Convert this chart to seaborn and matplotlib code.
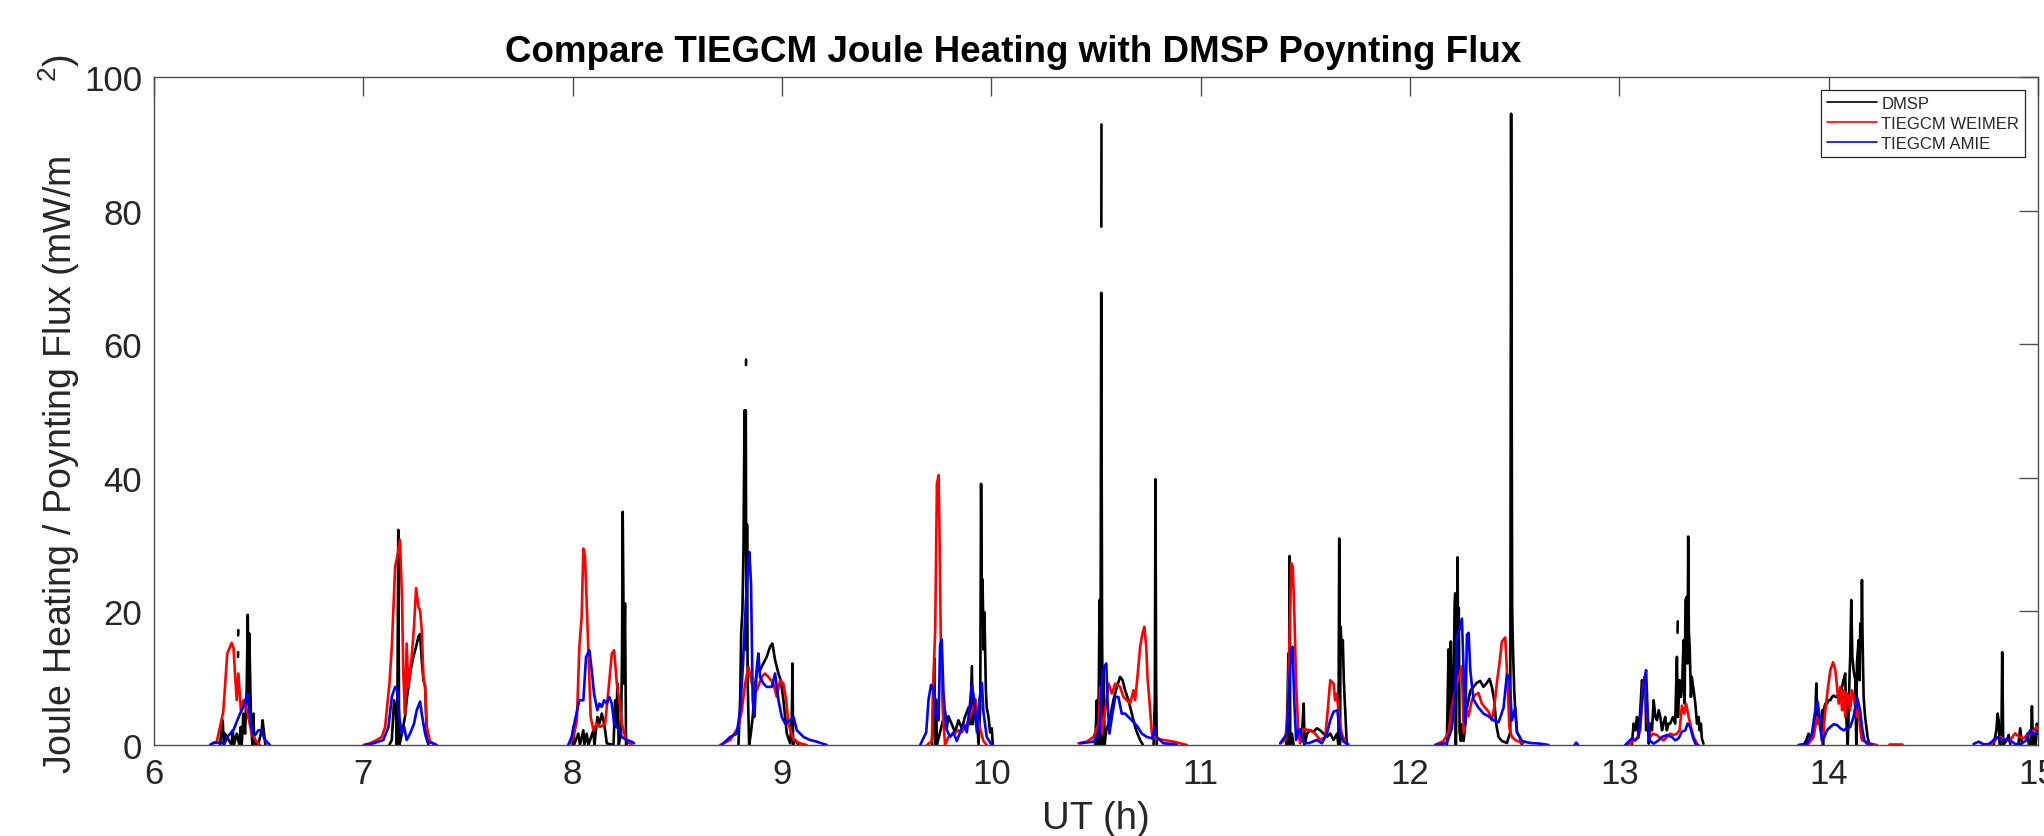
import numpy as np
import pandas as pd
import matplotlib
matplotlib.use("Agg")
import matplotlib.pyplot as plt
import seaborn as sns

GAP = None  # break in a trace

TITLE = "Compare TIEGCM Joule Heating with DMSP Poynting Flux"
X_LABEL = "UT (h)"
Y_LABEL = "Joule Heating / Poynting Flux (mW/m       $^{2}$)"
SERIES = ["DMSP", "TIEGCM WEIMER", "TIEGCM AMIE"]
COLORS = ["black", "red", "blue"]
X_TICKS = [6, 7, 8, 9, 10, 11, 12, 13, 14, 15]
Y_TICKS = [0, 20, 40, 60, 80, 100]

# (UT hour, mW/m^2) pairs; GAP breaks the line
DMSP = [
    (6.315, 0), (6.323, 2.2), (6.328, 3.7), (6.334, 0), (6.339, 1.7), (6.371, 0), (6.376, 2.2), (6.382, 0),
    (6.395, 1.7), (6.408, 0), (6.414, 2.7), (6.419, 0), (6.427, 4.7), (6.435, 1.7), (6.443, 8.7), (6.448, 19.5),
    (6.452, 6.7), (6.455, 16.7), (6.459, 10.7), (6.463, 4.2), (6.470, 0), (6.475, 4.7), (6.479, 0.25), (6.498, 0),
    (6.514, 2.2), (6.519, 3.7), (6.526, 1.7), (6.532, 0), GAP,
    (6.402, 16.4), (6.403, 17.2), GAP, (6.401, 13.2), (6.402, 13.9), GAP,
    (7.124, 0), (7.136, 0.75), (7.147, 6.7), (7.156, 4.7), (7.160, 0), (7.163, 8.2), (7.167, 32.2), (7.171, 0),
    (7.178, 0.75), (7.199, 4.2), (7.207, 6.7), (7.215, 8.7), (7.226, 11.2), (7.239, 13.2), (7.252, 14.7),
    (7.263, 16.2), (7.271, 16.6), (7.279, 12.7), (7.287, 9.7), (7.295, 8.9), (7.303, 1.7), (7.311, 0), GAP,
    (8.000, 0), (8.003, 2.7), (8.006, 0), (8.027, 1.7), (8.035, 0), (8.051, 2.2), (8.056, 0), (8.067, 1.7),
    (8.075, 0), (8.099, 2.2), (8.104, 0), (8.118, 4.2), (8.128, 3.2), (8.139, 4.7), (8.147, 3.7), (8.155, 2.2),
    (8.163, 0.25), (8.195, 0), (8.203, 6.7), (8.208, 2.7), (8.214, 9.2), (8.220, 0), (8.231, 1.7), (8.236, 14.2),
    (8.239, 34.9), (8.242, 24.2), (8.245, 9.2), (8.250, 21.2), (8.255, 0), (8.266, 0.5), GAP,
    (8.792, 0), (8.800, 6.7), (8.805, 16.7), (8.811, 20.2), (8.816, 29.2), (8.821, 50.1), (8.824, 39.2),
    (8.827, 50.1), (8.830, 14.2), (8.833, 33.0), (8.836, 9.2), (8.843, 0), (8.851, 1.7), (8.860, 4.2),
    (8.872, 9.2), (8.880, 11.2), (8.895, 11.2), (8.911, 12.2), (8.927, 13.2), (8.943, 14.7), (8.954, 15.2),
    (8.967, 12.7), (8.983, 10.7), (8.994, 9.7), (9.007, 6.7), (9.023, 1.7), (9.039, 0.25), (9.047, 4.2),
    (9.050, 12.2), (9.053, 0), (9.063, 0.75), (9.079, 0), GAP, (8.828, 56.9), (8.8285, 57.7), GAP,
    (9.716, 0), (9.724, 6.8), (9.728, 13.0), (9.732, 0), (9.736, 6.8), (9.740, 0), (9.755, 1.9), (9.779, 5.0),
    (9.787, 2.5), (9.795, 4.3), (9.811, 3.1), (9.827, 1.9), (9.843, 3.7), (9.859, 2.5), (9.875, 4.3),
    (9.891, 5.6), (9.899, 3.1), (9.907, 11.8), (9.912, 3.1), (9.923, 6.8), (9.931, 4.3), (9.939, 0),
    (9.947, 5.6), (9.951, 39.1), (9.955, 20.5), (9.958, 24.8), (9.963, 14.3), (9.967, 19.9), (9.974, 8.1),
    (9.978, 5.6), (9.986, 4.3), (9.994, 1.9), (10.002, 2.5), (10.007, 0), GAP,
    (10.496, 0), (10.504, 6.7), (10.507, 0), (10.513, 7.7), (10.517, 21.7), (10.521, 0), (10.525, 67.7),
    (10.529, 16.7), (10.533, 0), (10.536, 11.7), (10.541, 0), (10.549, 2.2), (10.560, 3.2), (10.571, 4.7),
    (10.583, 6.7), (10.600, 8.7), (10.615, 10.2), (10.627, 9.7), (10.639, 8.2), (10.655, 6.7), (10.671, 4.7),
    (10.687, 2.7), (10.698, 1.7), (10.711, 0.75), (10.724, 0), GAP, (10.5255, 77.6), (10.5262, 92.9), GAP,
    (10.775, 0), (10.781, 6.7), (10.784, 39.8), (10.787, 10.7), (10.790, 0), GAP,
    (11.409, 0), (11.415, 6.7), (11.419, 13.7), (11.422, 0), (11.425, 28.3), (11.428, 0), (11.436, 1.7),
    (11.444, 0), GAP,
    (11.484, 1.7), (11.492, 6.2), (11.497, 0), (11.508, 1.7), (11.523, 2.2), (11.539, 2.0), (11.555, 2.5),
    (11.571, 2.2), (11.587, 1.7), (11.603, 1.2), (11.619, 1.7), (11.635, 0.75), (11.651, 1.7), (11.658, 0),
    (11.662, 30.9), (11.665, 0), (11.669, 17.7), (11.674, 13.7), (11.679, 15.7), (11.684, 9.7), (11.688, 6.7),
    (11.692, 4.2), (11.698, 0), GAP,
    (12.176, 0), (12.184, 14.3), (12.189, 1.9), (12.195, 15.5), (12.200, 3.1), (12.208, 8.1), (12.213, 20.5),
    (12.216, 22.7), (12.219, 0), (12.224, 14.3), (12.227, 28.1), (12.230, 14.3), (12.233, 20.5), (12.237, 1.9),
    (12.243, 0.6), (12.248, 3.1), (12.256, 0.6), (12.272, 5.6), (12.288, 8.1), (12.303, 8.7), (12.319, 9.3),
    (12.335, 9.6), (12.351, 8.7), (12.367, 9.3), (12.380, 9.9), (12.391, 8.7), (12.402, 6.8), (12.412, 3.1),
    (12.423, 1.2), (12.439, 0.6), (12.463, 0.3), (12.479, 1.9), (12.483, 94.5), (12.488, 20.5), (12.492, 14.3),
    (12.498, 8.1), (12.503, 5.0), (12.511, 1.9), (12.524, 1.2), (12.535, 0), GAP,
    (12.4855, 52.0), (12.4860, 54.0), GAP,
    (13.060, 0), (13.068, 3.2), (13.076, 2.2), (13.084, 4.2), (13.092, 1.2), (13.100, 5.2), (13.108, 9.7),
    (13.116, 8.7), (13.124, 10.2), (13.128, 2.2), (13.135, 4.2), (13.141, 0.2), (13.148, 3.2), (13.156, 2.2),
    (13.164, 6.7), (13.172, 4.2), (13.180, 3.7), (13.188, 5.2), (13.196, 4.2), (13.204, 2.2), (13.211, 3.2),
    (13.219, 4.2), (13.227, 2.2), (13.235, 3.2), (13.243, 3.2), (13.256, 4.2), (13.267, 3.2), (13.275, 13.2),
    (13.280, 4.2), (13.288, 9.7), (13.294, 7.2), (13.299, 8.2), (13.307, 15.7), (13.312, 6.2), (13.316, 21.7),
    (13.323, 22.2), (13.326, 12.2), (13.329, 31.2), (13.332, 17.2), (13.336, 14.7), (13.342, 7.2),
    (13.346, 10.2), (13.355, 8.2), (13.363, 6.2), (13.371, 3.2), (13.379, 4.2), (13.383, 2.2), (13.390, 3.2),
    (13.394, 1.0), (13.402, 0.2), GAP, (13.278, 16.8), (13.279, 18.5), GAP,
    (13.880, 0), (13.893, 0.7), (13.904, 1.7), (13.915, 1.0), (13.928, 2.2), (13.936, 4.2), (13.941, 9.2),
    (13.944, 6.2), (13.949, 3.2), (13.957, 4.2), (13.963, 2.2), (13.970, 5.2), (13.973, 0), (13.976, 5.2),
    (13.984, 6.2), (13.992, 6.2), (14.000, 6.7), (14.008, 6.7), (14.016, 7.2), (14.024, 7.4), (14.032, 7.2),
    (14.040, 7.2), (14.048, 7.7), (14.056, 7.7), (14.064, 8.7), (14.071, 9.7), (14.079, 10.7), (14.084, 4.2),
    (14.091, 0), (14.095, 4.2), (14.100, 10.7), (14.103, 13.2), (14.108, 21.7), (14.113, 13.2), (14.119, 11.2),
    (14.127, 9.7), (14.132, 0), (14.135, 12.2), (14.143, 15.7), (14.148, 9.7), (14.151, 18.2), (14.156, 14.7),
    (14.159, 24.7), (14.162, 15.7), (14.167, 7.2), (14.174, 4.2), (14.180, 2.7), (14.186, 1.2), (14.193, 0.2),
    (14.199, 0), GAP,
    (14.788, 0), (14.801, 2.2), (14.807, 4.7), (14.812, 3.7), (14.817, 0), (14.825, 0), (14.829, 13.9),
    (14.834, 0), (14.852, 0.75), (14.860, 1.5), (14.868, 0), GAP,
    (14.907, 0.25), (14.915, 2.5), (14.923, 0.25), GAP,
    (14.944, 0.75), (14.950, 1.7), (14.957, 0), (14.966, 0), (14.971, 5.8), (14.976, 0), (14.982, 1.7),
    (14.989, 0), (14.995, 3.2), (15.001, 1.7), (15.008, 2.7),
]

WEIMER = [
    (6.268, 0), (6.300, 0.5), (6.331, 5.0), (6.350, 13.7), (6.371, 15.3), (6.380, 14.5), (6.387, 10.7),
    (6.395, 6.7), (6.403, 10.7), (6.415, 5.2), (6.427, 6.7), (6.435, 6.2), (6.447, 4.7), (6.467, 1.7),
    (6.490, 0.5), (6.506, 0), GAP,
    (7.000, 0), (7.032, 0.25), (7.064, 0.75), (7.088, 1.2), (7.104, 2.7), (7.125, 9.3), (7.136, 14.7),
    (7.152, 26.7), (7.163, 28.4), (7.175, 30.7), (7.185, 21.7), (7.191, 10.7), (7.199, 4.7), (7.207, 15.2),
    (7.215, 8.7), (7.231, 13.2), (7.242, 17.7), (7.252, 23.5), (7.263, 20.7), (7.271, 20.2), (7.279, 17.2),
    (7.287, 10.2), (7.295, 8.7), (7.303, 2.7), (7.319, 0.5), (7.343, 0), GAP,
    (7.979, 0), (8.003, 1.0), (8.020, 3.7), (8.032, 14.7), (8.043, 19.2), (8.051, 29.4), (8.059, 28.2),
    (8.067, 21.2), (8.075, 14.2), (8.086, 4.2), (8.099, 2.2), (8.115, 3.2), (8.131, 2.7), (8.155, 3.2),
    (8.171, 8.2), (8.187, 13.7), (8.198, 14.2), (8.211, 9.2), (8.223, 6.7), (8.235, 3.2), (8.251, 1.2),
    (8.266, 0.5), (8.282, 0), GAP,
    (8.704, 0), (8.752, 0.75), (8.792, 2.7), (8.808, 5.2), (8.824, 9.2), (8.840, 11.7), (8.856, 9.2),
    (8.880, 8.2), (8.903, 10.2), (8.919, 10.7), (8.935, 10.2), (8.959, 9.2), (8.975, 7.2), (8.991, 9.7),
    (9.007, 9.2), (9.020, 6.7), (9.031, 3.2), (9.055, 0.75), (9.087, 0.25), (9.118, 0), GAP,
    (9.692, 0), (9.716, 0.6), (9.720, 6.8), (9.732, 17.4), (9.740, 39.1), (9.748, 40.4), (9.752, 32.9),
    (9.759, 14.3), (9.768, 5.0), (9.779, 0), (9.795, 1.2), (9.819, 1.6), (9.843, 2.2), (9.859, 1.9),
    (9.883, 3.1), (9.907, 5.0), (9.923, 6.8), (9.934, 4.3), (9.946, 2.5), (9.962, 0.6), (9.978, 0), GAP,
    (10.416, 0.25), (10.456, 0.5), (10.488, 1.2), (10.512, 3.2), (10.520, 8.7), (10.528, 1.7), (10.544, 5.2),
    (10.560, 9.2), (10.576, 7.7), (10.592, 9.2), (10.615, 8.7), (10.631, 7.2), (10.647, 6.7), (10.663, 6.2),
    (10.679, 8.2), (10.687, 6.7), (10.698, 10.2), (10.711, 14.7), (10.722, 16.7), (10.731, 17.7),
    (10.740, 14.7), (10.746, 10.2), (10.755, 6.7), (10.767, 1.7), (10.783, 1.0), (10.822, 0.75),
    (10.870, 0.5), (10.934, 0), GAP,
    (11.380, 0.25), (11.404, 0.75), (11.415, 4.2), (11.425, 16.7), (11.433, 27.2), (11.440, 26.7),
    (11.448, 19.2), (11.456, 9.2), (11.467, 1.7), (11.475, 0.25), (11.483, 1.7), (11.491, 2.4), (11.523, 2.2),
    (11.547, 1.7), (11.571, 0.75), (11.595, 1.2), (11.607, 5.2), (11.619, 9.7), (11.635, 9.2), (11.642, 6.7),
    (11.650, 7.7), (11.663, 3.7), (11.674, 1.7), (11.690, 0.5), GAP,
    (12.120, 0), (12.160, 0.6), (12.184, 1.9), (12.200, 5.6), (12.211, 7.5), (12.224, 9.3), (12.237, 10.6),
    (12.248, 11.8), (12.256, 1.9), (12.268, 5.6), (12.280, 4.3), (12.296, 6.8), (12.311, 7.5), (12.327, 7.8),
    (12.343, 6.2), (12.359, 5.6), (12.375, 5.0), (12.391, 3.7), (12.402, 5.6), (12.415, 9.3), (12.428, 12.4),
    (12.439, 15.5), (12.455, 16.1), (12.466, 9.3), (12.475, 2.5), (12.487, 1.2), (12.511, 0.6),
    (12.542, 0.3), GAP,
    (13.036, 0), (13.060, 0.5), (13.084, 1.0), (13.100, 2.2), (13.112, 8.2), (13.120, 10.2), (13.128, 8.2),
    (13.136, 3.2), (13.148, 1.2), (13.160, 1.7), (13.180, 1.5), (13.196, 1.0), (13.211, 0.7), (13.227, 1.2),
    (13.243, 1.7), (13.259, 1.5), (13.275, 1.7), (13.288, 2.2), (13.299, 5.9), (13.310, 4.7), (13.319, 6.2),
    (13.331, 4.2), (13.342, 2.7), (13.355, 1.2), (13.371, 0.2), GAP,
    (13.864, 0), (13.904, 0.2), (13.928, 1.2), (13.944, 4.2), (13.957, 3.2), (13.968, 0.7), (13.976, 2.2),
    (13.984, 5.2), (13.995, 8.2), (14.008, 11.2), (14.021, 12.4), (14.032, 11.2), (14.040, 8.7),
    (14.048, 6.2), (14.056, 8.7), (14.064, 5.2), (14.071, 8.2), (14.079, 4.2), (14.087, 7.7), (14.095, 7.2),
    (14.103, 5.2), (14.111, 8.2), (14.119, 7.2), (14.127, 5.7), (14.135, 4.2), (14.143, 5.2), (14.151, 2.2),
    (14.159, 0.7), (14.175, 0.5), (14.199, 0.2), (14.231, 0), GAP,
    (14.29, 0.15), (14.35, 0.15), GAP,
    (14.772, 0), (14.788, 0.5), (14.804, 1.0), (14.820, 1.2), (14.844, 0.75), (14.867, 0.75), (14.891, 1.75),
    (14.899, 1.5), (14.915, 1.2), (14.931, 1.0), (14.947, 1.5), (14.963, 1.75), (14.979, 2.2), (14.995, 2.7),
    (15.008, 1.75),
]

AMIE = [
    (6.268, 0), (6.284, 0.35), (6.339, 0.35), (6.350, 1.2), (6.379, 2.2), (6.411, 4.7), (6.427, 5.7),
    (6.446, 7.7), (6.459, 4.2), (6.471, 1.7), (6.483, 1.5), (6.499, 2.2), (6.514, 2.2), (6.526, 1.0),
    (6.538, 0.5), (6.554, 0), GAP,
    (7.008, 0), (7.048, 0.25), (7.096, 0.75), (7.120, 2.7), (7.136, 7.2), (7.152, 8.7), (7.163, 8.2),
    (7.172, 4.2), (7.183, 1.7), (7.195, 2.7), (7.207, 0.75), (7.223, 1.7), (7.242, 3.2), (7.255, 5.2),
    (7.271, 6.5), (7.279, 4.7), (7.295, 1.7), (7.306, 0.5), (7.327, 0.35), (7.351, 0), GAP,
    (7.979, 0), (7.995, 1.2), (8.011, 3.7), (8.032, 6.7), (8.051, 6.7), (8.064, 13.2), (8.080, 14.2),
    (8.091, 11.2), (8.102, 7.7), (8.118, 5.2), (8.128, 6.2), (8.139, 5.7), (8.150, 6.7), (8.163, 6.2),
    (8.175, 7.2), (8.187, 6.2), (8.198, 3.2), (8.211, 2.7), (8.223, 2.2), (8.235, 1.2), (8.258, 0.75),
    (8.282, 0.5), (8.293, 0.25), GAP,
    (8.712, 0), (8.752, 1.2), (8.784, 1.7), (8.800, 5.2), (8.813, 11.7), (8.827, 21.2), (8.840, 28.2),
    (8.844, 28.9), (8.852, 24.2), (8.860, 6.7), (8.868, 4.2), (8.880, 11.7), (8.887, 13.7), (8.895, 10.2),
    (8.911, 9.2), (8.927, 8.7), (8.951, 8.7), (8.967, 10.7), (8.983, 6.7), (8.999, 4.2), (9.015, 3.2),
    (9.039, 3.7), (9.055, 4.2), (9.071, 2.2), (9.103, 1.2), (9.134, 0.75), (9.166, 0.5), (9.214, 0), GAP,
    (9.660, 0), (9.689, 1.9), (9.700, 6.8), (9.712, 9.0), (9.724, 8.1), (9.735, 4.3), (9.748, 3.7),
    (9.755, 14.9), (9.763, 15.8), (9.771, 8.1), (9.784, 2.5), (9.803, 1.2), (9.819, 1.9), (9.835, 0.6),
    (9.851, 1.9), (9.867, 3.1), (9.883, 1.9), (9.896, 5.6), (9.907, 9.0), (9.918, 6.8), (9.931, 1.9),
    (9.943, 6.8), (9.955, 9.3), (9.962, 5.0), (9.978, 1.2), (10.002, 0), GAP,
    (10.424, 0.25), (10.488, 0.5), (10.516, 1.7), (10.528, 9.7), (10.539, 11.7), (10.549, 12.2),
    (10.555, 6.7), (10.564, 1.7), (10.576, 4.2), (10.592, 7.2), (10.607, 7.2), (10.623, 4.7), (10.639, 4.7),
    (10.655, 4.2), (10.671, 3.7), (10.695, 2.9), (10.719, 1.7), (10.743, 1.2), (10.767, 1.0), (10.783, 2.7),
    (10.790, 1.2), (10.822, 0.25), (10.886, 0.1), GAP,
    (11.380, 0.25), (11.412, 1.7), (11.420, 6.7), (11.431, 14.2), (11.439, 14.7), (11.447, 6.7),
    (11.456, 0.75), (11.467, 2.2), (11.475, 2.4), (11.488, 0.5), (11.515, 0.25), (11.555, 0.75),
    (11.579, 0.25), (11.603, 1.7), (11.619, 3.7), (11.635, 5.0), (11.653, 5.2), (11.666, 1.7), (11.682, 0.5),
    (11.706, 0.1), GAP,
    (12.120, 0), (12.176, 0.3), (12.200, 2.5), (12.216, 8.1), (12.224, 16.1), (12.237, 17.4), (12.248, 18.9),
    (12.256, 11.2), (12.264, 3.1), (12.272, 16.5), (12.280, 16.8), (12.288, 11.2), (12.303, 6.8),
    (12.327, 5.6), (12.351, 4.7), (12.375, 4.3), (12.399, 3.7), (12.423, 3.4), (12.447, 5.6), (12.463, 10.6),
    (12.475, 9.9), (12.487, 3.7), (12.503, 5.6), (12.511, 1.9), (12.535, 0.6), (12.574, 0.3), (12.622, 0.2),
    (12.662, 0), GAP,
    (12.785, 0), (12.794, 0.35), (12.803, 0), GAP,
    (13.028, 0), (13.044, 0.5), (13.060, 1.0), (13.076, 0.7), (13.092, 1.2), (13.108, 6.2), (13.119, 9.7),
    (13.128, 11.2), (13.136, 4.2), (13.144, 0.7), (13.164, 0.2), (13.188, 0.7), (13.204, 1.2), (13.227, 1.5),
    (13.251, 1.2), (13.267, 0.7), (13.283, 1.0), (13.299, 2.0), (13.315, 2.2), (13.326, 3.2), (13.339, 2.7),
    (13.351, 1.2), (13.363, 0.2), (13.378, 0), GAP,
    (13.856, 0), (13.896, 0.2), (13.920, 1.7), (13.936, 5.2), (13.947, 6.5), (13.957, 4.2), (13.968, 0.7),
    (13.979, 1.2), (13.992, 2.2), (14.008, 2.7), (14.024, 3.1), (14.040, 3.0), (14.056, 2.5), (14.071, 2.2),
    (14.087, 2.5), (14.103, 2.7), (14.119, 4.2), (14.135, 7.2), (14.143, 6.2), (14.151, 5.0), (14.159, 2.7),
    (14.170, 0.7), (14.183, 0.2), (14.207, 0.1), GAP,
    (14.692, 0.15), (14.716, 0.5), (14.740, 0.1), (14.764, 0.15), (14.780, 0.5), (14.796, 1.0), (14.812, 1.2),
    (14.828, 0.75), (14.852, 0.85), (14.875, 0.5), (14.891, 0.15), (14.915, 0.1), (14.947, 0.75),
    (14.955, 1.75), (14.963, 2.2), (14.979, 1.5), (14.995, 2.0), (15.008, 2.2),
]


def to_frame(name, pairs):
    rows, seg = [], 0
    for p in pairs:
        if p is None:
            seg += 1
            continue
        rows.append({"UT": p[0], "flux": p[1], "series": name, "segment": f"{name}-{seg}"})
    return pd.DataFrame(rows)


df = pd.concat([to_frame(n, d) for n, d in zip(SERIES, [DMSP, WEIMER, AMIE])], ignore_index=True)

sns.set_theme(style="white")
plt.rcParams["font.family"] = ["Liberation Sans", "DejaVu Sans"]
plt.rcParams["mathtext.fontset"] = "custom"
plt.rcParams["mathtext.rm"] = "Liberation Sans"
plt.rcParams["mathtext.default"] = "regular"

W, H = 2044, 837
fig = plt.figure(figsize=(W / 100, H / 100), dpi=100)
ax_l, ax_r, ax_t, ax_b = 154, 2038, 78, 746
ax = fig.add_axes([ax_l / W, 1 - ax_b / H, (ax_r - ax_l) / W, (ax_b - ax_t) / H])

sns.lineplot(data=df, x="UT", y="flux", hue="series", hue_order=SERIES,
             palette=dict(zip(SERIES, COLORS)), units="segment", estimator=None,
             sort=False, linewidth=1.9, ax=ax)

ax.set_xlim(X_TICKS[0], X_TICKS[-1])
ax.set_ylim(Y_TICKS[0], Y_TICKS[-1])
ax.set_xticks(X_TICKS)
ax.set_yticks(Y_TICKS)

axis_col = "#4d4d4d"
text_col = "#262626"
for s in ax.spines.values():
    s.set_color(axis_col)
    s.set_linewidth(1.0)
    s.set_visible(True)
ax.tick_params(axis="both", which="major", direction="in", length=13.5, width=1.0,
               color=axis_col, labelcolor=text_col, labelsize=25, top=True, right=True, pad=8.5)

ax.set_xlabel(X_LABEL, fontsize=27.5, color=text_col)
ax.xaxis.set_label_coords(0.5, -0.083)
ax.set_ylabel(Y_LABEL, fontsize=27, color=text_col)
ax.yaxis.set_label_coords(-0.038, 0.497)

fig.text(1013 / W, 1 - 52 / H, TITLE, ha="center", va="center",
         fontsize=26.5, fontweight="bold", color="black")

handles, labels = ax.get_legend_handles_labels()
leg = ax.legend(handles, labels, loc="upper right", bbox_to_anchor=(0.9931, 0.9805),
                borderaxespad=0, fontsize=12, frameon=True, fancybox=False,
                edgecolor=text_col, framealpha=1, handlelength=3.0, handletextpad=0.26,
                borderpad=0.35, labelspacing=0.3)
leg.get_frame().set_linewidth(0.9)
for ln in leg.get_lines():
    ln.set_linewidth(1.2)

fig.savefig("out.png", dpi=100)
